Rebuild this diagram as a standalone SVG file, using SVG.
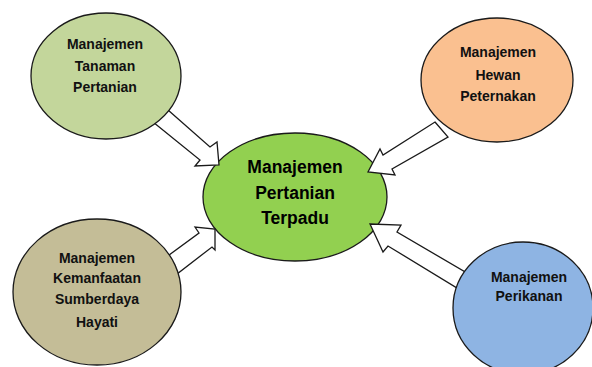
<svg xmlns="http://www.w3.org/2000/svg" width="592" height="367" viewBox="0 0 592 367">
<style>
.node ellipse{stroke:#1a1a1a;stroke-width:1.3}
.conn polygon{fill:#ffffff;stroke:#1a1a1a;stroke-width:1.3;stroke-linejoin:miter}
.t{font-family:"Liberation Sans",Arial,sans-serif;font-weight:bold;font-size:14px;fill:#111;text-anchor:middle}
.tc{font-family:"Liberation Sans",Arial,sans-serif;font-weight:bold;font-size:17.5px;fill:#000;text-anchor:middle}
</style>
<rect width="592" height="367" fill="#ffffff"/>
<g id="center" class="node">
<ellipse cx="295" cy="197" rx="92" ry="64" fill="#92d050"/>
<text class="tc" x="295" y="173">Manajemen</text>
<text class="tc" x="295" y="199">Pertanian</text>
<text class="tc" x="295" y="224">Terpadu</text>
</g>
<g id="connectors" class="conn">
<polygon points="168,110 210,147 217,142 219,165 195,166 200,160 153,122"/>
<polygon points="435,122 448,137 392,169 395,175 368,172 380,149 383,155"/>
<polygon points="165,258 199,233 195,227 215,229 215,250 212,247 177,274"/>
<polygon points="370,224 401,225 397,232 472,276 462,291 388,246 383,252"/>
</g>
<g id="tanaman" class="node">
<ellipse cx="106" cy="76" rx="75" ry="63" fill="#c3d69b"/>
<text class="t" x="105" y="49">Manajemen</text>
<text class="t" x="105" y="71">Tanaman</text>
<text class="t" x="105" y="92">Pertanian</text>
</g>
<g id="hewan" class="node">
<ellipse cx="497" cy="80" rx="76" ry="62" fill="#fac090"/>
<text class="t" x="498" y="57">Manajemen</text>
<text class="t" x="498" y="80">Hewan</text>
<text class="t" x="498" y="101">Peternakan</text>
</g>
<g id="hayati" class="node">
<ellipse cx="97" cy="292" rx="84" ry="73" fill="#c4bd97"/>
<text class="t" x="97" y="263">Manajemen</text>
<text class="t" x="97" y="283">Kemanfaatan</text>
<text class="t" x="97" y="304">Sumberdaya</text>
<text class="t" x="97" y="327">Hayati</text>
</g>
<g id="perikanan" class="node">
<ellipse cx="523" cy="308" rx="70" ry="66" fill="#8eb4e3"/>
<text class="t" x="529" y="282">Manajemen</text>
<text class="t" x="529" y="301">Perikanan</text>
</g>
</svg>
